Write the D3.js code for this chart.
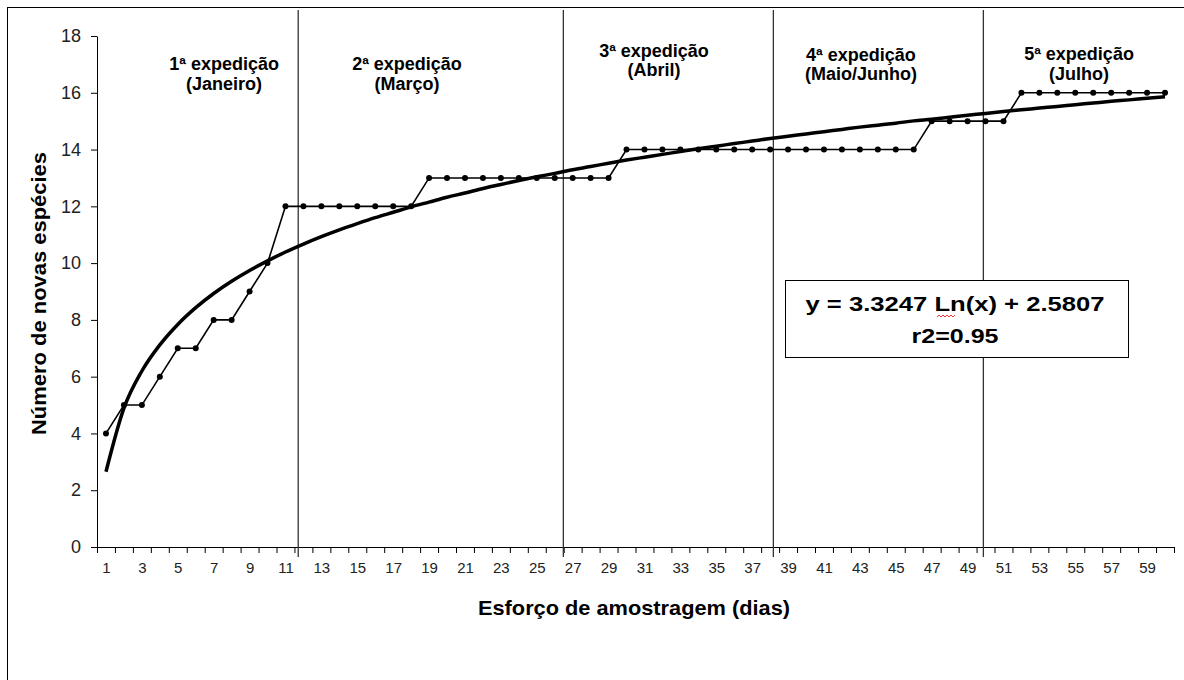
<!DOCTYPE html>
<html>
<head>
<meta charset="utf-8">
<script src="https://cdn.jsdelivr.net/npm/d3@7"></script>
<style>
  body { margin: 0; background: #fff; }
  svg text { font-family: "Liberation Sans", Arial, sans-serif; }
</style>
</head>
<body>
<div id="chart"></div>
<script>
// sampling days (categories) and cumulative species count
var days = d3.range(1, 61);
var species = [4, 5, 5, 6, 7, 7, 8, 8, 9, 10,
  12, 12, 12, 12, 12, 12, 12, 12, 13, 13,
  13, 13, 13, 13, 13, 13, 13, 13, 13, 14,
  14, 14, 14, 14, 14, 14, 14, 14, 14, 14,
  14, 14, 14, 14, 14, 14, 15, 15, 15, 15,
  15, 16, 16, 16, 16, 16, 16, 16, 16, 16];

// logarithmic trend line
var trend = [2.65, 4.89, 6.20, 7.12, 7.84, 8.43, 8.93, 9.36, 9.74, 10.08,
  10.39, 10.67, 10.93, 11.17, 11.39, 11.60, 11.79, 11.98, 12.15, 12.32,
  12.47, 12.63, 12.77, 12.91, 13.04, 13.16, 13.29, 13.40, 13.52, 13.63,
  13.73, 13.83, 13.93, 14.03, 14.12, 14.21, 14.30, 14.39, 14.47, 14.55,
  14.63, 14.71, 14.79, 14.86, 14.93, 15.01, 15.07, 15.14, 15.21, 15.27,
  15.34, 15.40, 15.46, 15.52, 15.58, 15.64, 15.70, 15.75, 15.81, 15.86];

// expedition boundaries (in day units) and labels
var boundaries = [11.71, 26.48, 38.18, 49.88];
var expeditions = ["1ª expedição", "2ª expedição", "3ª expedição", "4ª expedição", "5ª expedição"];
var months = ["(Janeiro)", "(Março)", "(Abril)", "(Maio/Junho)", "(Julho)"];
var expeditionX = [7.58, 17.77, 31.53, 43.06, 55.21];

var yTicks = [0, 2, 4, 6, 8, 10, 12, 14, 16, 18];
var xLabels = days.filter(d => d % 2 === 1);

var equation = "y = 3.3247 Ln(x) + 2.5807";
var rSquared = "r2=0.95";

// svg setup
// ==============================
var svgWidth = 1184;
var svgHeight = 680;

var plot = { left: 97, right: 1174, top: 36, bottom: 547 };

var svg = d3.select("#chart")
  .append("svg")
  .attr("width", svgWidth)
  .attr("height", svgHeight);

// outer frame
svg.append("rect")
  .attr("x", 7.5)
  .attr("y", 7.5)
  .attr("width", 1200)
  .attr("height", 700)
  .attr("fill", "none")
  .attr("stroke", "#000");

// scales
// ==============================
var xScale = d3.scaleLinear()
  .domain([0.5, 60.5])
  .range([plot.left, plot.right]);

var yScale = d3.scaleLinear()
  .domain([0, 18])
  .range([plot.bottom, plot.top]);

// axes
// ==============================
var yAxis = svg.append("g")
  .attr("transform", `translate(${plot.left},0)`)
  .call(d3.axisLeft(yScale).tickValues(yTicks).tickSizeInner(6).tickSizeOuter(0).tickPadding(10));

yAxis.selectAll("text")
  .attr("font-size", "18px")
  .attr("fill", "#222");

var xTicks = svg.append("g")
  .attr("transform", `translate(0,${plot.bottom})`)
  .call(d3.axisBottom(xScale)
    .tickValues(d3.range(0.5, 61, 1))
    .tickFormat("")
    .tickSizeInner(6)
    .tickSizeOuter(0));

var xAxis = svg.append("g")
  .attr("transform", `translate(0,${plot.bottom})`)
  .call(d3.axisBottom(xScale).tickValues(xLabels).tickSize(0).tickPadding(15));

xAxis.select(".domain").remove();
xAxis.selectAll("text")
  .attr("font-size", "15px")
  .attr("fill", "#222");

svg.selectAll(".domain, .tick line")
  .attr("stroke", "#000");

// expedition separators
// ==============================
svg.append("g").selectAll("line")
  .data(boundaries)
  .enter()
  .append("line")
  .attr("x1", d => xScale(d))
  .attr("x2", d => xScale(d))
  .attr("y1", 10)
  .attr("y2", 557)
  .attr("stroke", "#333")
  .attr("stroke-width", 1.3);

// expedition labels
var lineOneY = [70, 70, 57, 61, 60];
var lineTwoY = [90, 90, 76, 80, 80];

var labels = svg.append("g").selectAll("g")
  .data(expeditions)
  .enter()
  .append("g");

labels.append("text")
  .attr("x", (d, i) => xScale(expeditionX[i]))
  .attr("y", (d, i) => lineOneY[i])
  .attr("text-anchor", "middle")
  .attr("font-size", "18px")
  .attr("font-weight", "700")
  .text(d => d);

labels.append("text")
  .attr("x", (d, i) => xScale(expeditionX[i]))
  .attr("y", (d, i) => lineTwoY[i])
  .attr("text-anchor", "middle")
  .attr("font-size", "18px")
  .attr("font-weight", "700")
  .text((d, i) => months[i]);

// trend line
// ==============================
var trendLine = d3.line()
  .x((d, i) => xScale(days[i]))
  .y(d => yScale(d))
  .curve(d3.curveMonotoneX);

svg.append("path")
  .datum(trend)
  .attr("d", trendLine)
  .attr("fill", "none")
  .attr("stroke", "#000")
  .attr("stroke-width", 3.5);

// species line + markers
// ==============================
var speciesLine = d3.line()
  .x((d, i) => xScale(days[i]))
  .y(d => yScale(d));

svg.append("path")
  .datum(species)
  .attr("d", speciesLine)
  .attr("fill", "none")
  .attr("stroke", "#000")
  .attr("stroke-width", 1.6);

svg.append("g").selectAll("circle")
  .data(species)
  .enter()
  .append("circle")
  .attr("cx", (d, i) => xScale(days[i]))
  .attr("cy", d => yScale(d))
  .attr("r", 3)
  .attr("fill", "#000");

// equation box
// ==============================
svg.append("rect")
  .attr("x", 785.5)
  .attr("y", 280.5)
  .attr("width", 343)
  .attr("height", 77)
  .attr("fill", "#fff")
  .attr("stroke", "#000");

svg.append("text")
  .attr("x", 955)
  .attr("y", 311)
  .attr("text-anchor", "middle")
  .attr("font-size", "20px")
  .attr("font-weight", "700")
  .attr("textLength", 299)
  .attr("lengthAdjust", "spacingAndGlyphs")
  .text(equation);

svg.append("text")
  .attr("x", 955)
  .attr("y", 343)
  .attr("text-anchor", "middle")
  .attr("font-size", "20px")
  .attr("font-weight", "700")
  .attr("textLength", 87)
  .attr("lengthAdjust", "spacingAndGlyphs")
  .text(rSquared);

// spell-check squiggle under "Ln"
svg.append("path")
  .attr("d", "M937,317 l2,-2 l2,2 l2,-2 l2,2 l2,-2 l2,2 l2,-2 l2,2 l2,-2")
  .attr("fill", "none")
  .attr("stroke", "#e00")
  .attr("stroke-width", 0.8);

// axis titles
// ==============================
svg.append("text")
  .attr("transform", "translate(46, 293.5) rotate(-90)")
  .attr("text-anchor", "middle")
  .attr("font-size", "21px")
  .attr("font-weight", "700")
  .attr("textLength", 283)
  .attr("lengthAdjust", "spacingAndGlyphs")
  .text("Número de novas espécies");

svg.append("text")
  .attr("x", 634)
  .attr("y", 615)
  .attr("text-anchor", "middle")
  .attr("font-size", "21px")
  .attr("font-weight", "700")
  .attr("textLength", 312)
  .attr("lengthAdjust", "spacingAndGlyphs")
  .text("Esforço de amostragem (dias)");
</script>
</body>
</html>
